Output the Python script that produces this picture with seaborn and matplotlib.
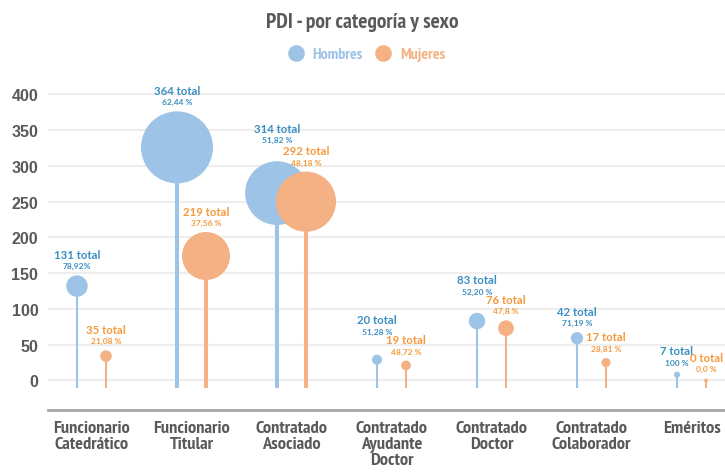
import numpy as np
import pandas as pd
import matplotlib
matplotlib.use('Agg')
import matplotlib.pyplot as plt
import matplotlib.font_manager as fm
from matplotlib.lines import Line2D
import seaborn as sns

# datos
categorias = ['Funcionario\nCatedrático', 'Funcionario\nTitular', 'Contratado\nAsociado',
              'Contratado\nAyudante\nDoctor', 'Contratado\nDoctor', 'Contratado\nColaborador',
              'Eméritos']
total_hombres = [131, 364, 314, 20, 83, 42, 7]
total_mujeres = [35, 219, 292, 19, 76, 17, 0]
pct_hombres = ['78,92%', '62,44 %', '51,82 %', '51,28 %', '52,20 %', '71,19 %', '100 %']
pct_mujeres = ['21,08 %', '37,56 %', '48,18 %', '48,72 %', '47,8 %', '28,81 %', '0,0 %']
# altura de cada circulo
altura_hombres = [132, 326, 262, 29, 83, 59, 8]
altura_mujeres = [34, 174, 250, 21, 73, 25, 0]
yticks = [0, 50, 100, 150, 200, 250, 300, 350, 400]

sns.set_style('white')
plt.rcParams['font.family'] = ['Liberation Sans', 'DejaVu Sans']


# fuente estrecha en negrita si existe
def narrow_font(size):
    cands = [f.fname for f in fm.fontManager.ttflist
             if 'Narrow' in f.name and (f.weight in (700, 'bold') or 'Bold' in f.fname)
             and 'Italic' not in f.fname]
    if cands:
        return fm.FontProperties(fname=cands[0], size=size)
    return fm.FontProperties(family=['Liberation Sans', 'DejaVu Sans'], weight='bold', size=size * 0.85)


col_fill = {'Hombres': '#9dc3e6', 'Mujeres': '#f4b183'}
col_text = {'Hombres': '#3a8fc2', 'Mujeres': '#f59a3c'}
offset = {'Hombres': -0.145, 'Mujeres': 0.145}

rows = []
for i, cat in enumerate(categorias):
    rows.append(dict(cat=cat, idx=i, sexo='Hombres', total=total_hombres[i],
                     pct=pct_hombres[i], altura=altura_hombres[i]))
    rows.append(dict(cat=cat, idx=i, sexo='Mujeres', total=total_mujeres[i],
                     pct=pct_mujeres[i], altura=altura_mujeres[i]))
df = pd.DataFrame(rows)
df['x'] = df['idx'] + df['sexo'].map(offset)

# escala de radio (px) segun el total
df['r_px'] = np.interp(df['total'], [0, 20, 131, 219, 364], [2, 5, 10.7, 24, 36])
sizes = {t: (2 * r * 0.72) ** 2 for t, r in zip(df['total'], df['r_px'])}

fig = plt.figure(figsize=(7.25, 4.77), dpi=100)
ax = fig.add_axes([48 / 725, (477 - 389) / 477, 677 / 725, 299 / 477])
ybase = -10.6
ax.set_ylim(ybase, 407.6)
ax.set_xlim(-0.435, 6.335)

# spines primero (set_position reinicia los ticks)
for s in ['left', 'right', 'top']:
    ax.spines[s].set_visible(False)
ax.spines['bottom'].set_position(('outward', 22 * 0.72))
ax.spines['bottom'].set_color('#a6a6a6')
ax.spines['bottom'].set_linewidth(2)

# palitos
for _, r in df.iterrows():
    lw = 2.9 if r['total'] >= 200 else 1.5
    ax.vlines(r['x'], ybase, r['altura'], color=col_fill[r['sexo']], lw=lw, zorder=2)

sns.scatterplot(data=df, x='x', y='altura', hue='sexo', palette=col_fill,
                size='total', sizes=sizes, linewidth=0, alpha=1,
                legend=False, ax=ax, zorder=3, clip_on=False)

# etiquetas
lift = {(2, 'Hombres'): 12, (3, 'Hombres'): 14, (4, 'Hombres'): 12}
for _, r in df.iterrows():
    extra = lift.get((r['idx'], r['sexo']), 0)
    base = (r['r_px'] + extra) * 0.72
    ax.annotate(f"{r['total']} total", (r['x'], r['altura']),
                xytext=(0, base + 21 * 0.72), textcoords='offset points',
                ha='center', va='center', fontsize=8.2, fontweight='bold',
                family=['Lato', 'DejaVu Sans'], color=col_text[r['sexo']],
                annotation_clip=False)
    ax.annotate(r['pct'], (r['x'], r['altura']),
                xytext=(0, base + 9.5 * 0.72), textcoords='offset points',
                ha='center', va='center', fontsize=6, fontweight='bold',
                family=['Lato', 'DejaVu Sans'], color=col_text[r['sexo']],
                annotation_clip=False)

ax.set_xlabel('')
ax.set_ylabel('')
ax.set_yticks(yticks)
ax.set_yticklabels([str(v) for v in yticks], fontsize=11.5, fontweight='bold', color='#595959')
ax.yaxis.grid(True, color='#eeeeee', lw=1.6)
ax.set_axisbelow(True)
ax.tick_params(axis='y', length=0, pad=7)

ax.set_xticks(range(len(categorias)))
ax.tick_params(axis='x', length=0, pad=7)
ax.set_xticklabels(categorias, color='#595959', linespacing=1.02, va='top',
                   fontproperties=narrow_font(13.2))

fig.text(0.5, 1 - 23 / 477, 'PDI - por categoría y sexo', ha='center', va='center',
         color='#595959', fontproperties=narrow_font(15.5))

handles = [Line2D([], [], marker='o', ls='', markersize=12, color=col_fill[s], markeredgewidth=0)
           for s in ['Hombres', 'Mujeres']]
fig.legend(handles, ['Hombres', 'Mujeres'], loc='center', bbox_to_anchor=(0.5, 1 - 55 / 477),
           ncol=2, frameon=False, handletextpad=0.05, columnspacing=0.3,
           labelcolor=[col_fill['Hombres'], col_fill['Mujeres']],
           prop=narrow_font(11.5))

fig.savefig('out.png', dpi=100)
